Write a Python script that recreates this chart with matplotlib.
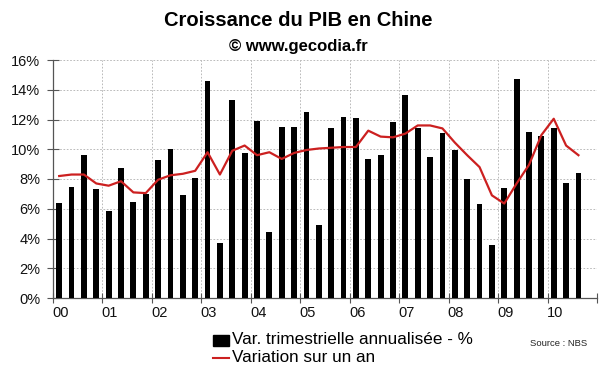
import matplotlib
matplotlib.use("Agg")
import matplotlib.pyplot as plt
from matplotlib.patches import Rectangle
from matplotlib.lines import Line2D

plt.rcParams['font.family'] = ['Liberation Sans', 'DejaVu Sans']

years = ["00", "01", "02", "03", "04", "05", "06", "07", "08", "09", "10"]
quarterly = [6.4, 7.45, 9.6, 7.35, 5.85, 8.75, 6.45, 7.0,
             9.25, 10.0, 6.9, 8.1, 14.6, 3.7, 13.3, 9.75,
             11.9, 4.45, 11.5, 11.5, 12.5, 4.9, 11.45, 12.15,
             12.1, 9.35, 9.6, 11.85, 13.65, 11.4, 9.5, 11.1,
             9.95, 8.0, 6.35, 3.55, 7.4, 14.75, 11.15, 10.9,
             11.45, 7.7, 8.4]
yearly = [8.2, 8.3, 8.3, 7.7, 7.55, 7.85, 7.1, 7.05,
          7.95, 8.25, 8.35, 8.55, 9.8, 8.3, 9.9, 10.25,
          9.6, 9.8, 9.35, 9.75, 9.95, 10.05, 10.1, 10.15,
          10.15, 11.25, 10.85, 10.8, 11.05, 11.6, 11.6, 11.4,
          10.45, 9.6, 8.8, 6.9, 6.35, 7.7, 8.95, 10.95,
          12.05, 10.25, 9.6]
yticks = [0, 2, 4, 6, 8, 10, 12, 14, 16]

fig = plt.figure(figsize=(6.0, 3.72), dpi=100)
ax = fig.add_axes([53/600, 1-298/372, 544/600, 238/372])

x = list(range(len(quarterly)))
ax.bar(x, quarterly, width=0.47, color='black', zorder=3)
ax.plot(x, yearly, color='#cc2020', lw=1.6, zorder=4)

nq = 4 * len(years)
ax.set_xlim(-0.5, nq - 0.5)
ax.set_ylim(0, 16)
ax.set_yticks(yticks)
ax.set_yticklabels([f"{v}%" for v in yticks], fontsize=10.5)

bounds = [4 * k - 0.5 for k in range(len(years) + 1)]
ax.set_xticks(bounds)
ax.set_xticklabels([])
ax.tick_params(axis='x', direction='inout', length=7, width=0.8, colors='#555555')
ax.tick_params(axis='y', direction='inout', length=8, width=0.8, colors='#555555',
               labelcolor='#111111', pad=5)
for k, lab in enumerate(years):
    ax.text(4 * k + 0.1, -1.0, lab, ha='center', va='center', fontsize=10.5,
            color='#111111', transform=ax.transData)

for v in yticks[1:]:
    ax.axhline(v, color='#b0b0b0', lw=0.6, ls=(0, (2, 2)), zorder=1)
for b in bounds[1:-1]:
    ax.axvline(b, color='#b0b0b0', lw=0.6, ls=(0, (2, 2)), zorder=1)

for s in ['top', 'right']:
    ax.spines[s].set_visible(False)
for s in ['left', 'bottom']:
    ax.spines[s].set_color('#555555')
    ax.spines[s].set_linewidth(0.9)

fig.text(0.497, 1-21/372, "Croissance du PIB en Chine", ha='center', va='center',
         fontsize=14.5, fontweight='bold')
fig.text(0.497, 1-46/372, "\u00a9 www.gecodia.fr", ha='center', va='center',
         fontsize=12, fontweight='bold')

fig.patches.append(Rectangle((213/600, 1-346/372), 16/600, 11/372, transform=fig.transFigure,
                             color='black', figure=fig))
fig.text(232/600, 1-340/372, "Var. trimestrielle annualisée - %", ha='left', va='center',
         fontsize=12.3)
fig.lines.append(Line2D([213/600, 229/600], [1-358/372, 1-358/372], transform=fig.transFigure,
                        color='#cc2020', lw=1.5, figure=fig))
fig.text(232/600, 1-358/372, "Variation sur un an", ha='left', va='center', fontsize=12.3)
fig.text(587/600, 1-343/372, "Source : NBS", ha='right', va='center', fontsize=6.8,
         color='#222222')

fig.savefig("out.png", dpi=100, facecolor='white')
